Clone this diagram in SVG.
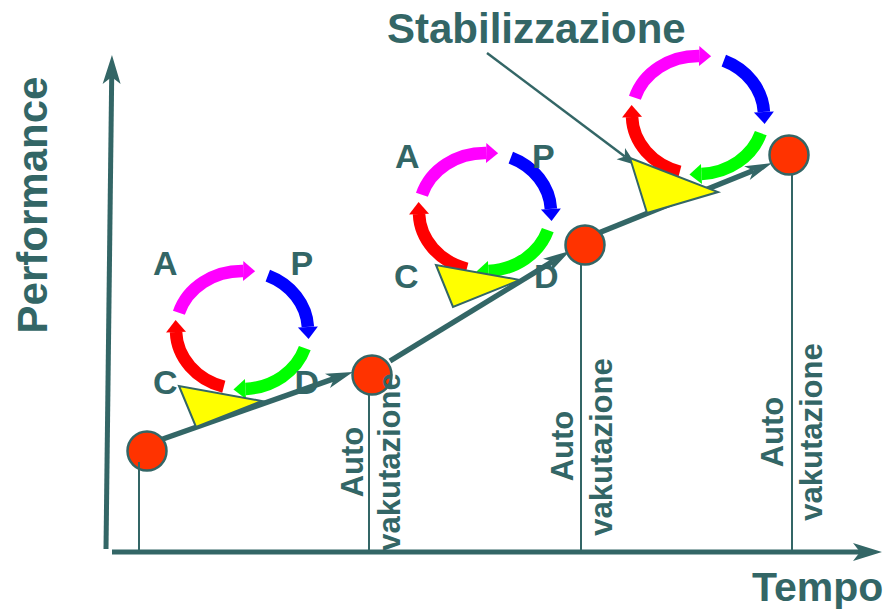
<svg xmlns="http://www.w3.org/2000/svg" xmlns:xlink="http://www.w3.org/1999/xlink" width="889" height="612" viewBox="0 0 889 612">
<style>
text{font-family:"Liberation Sans",Arial,sans-serif;font-weight:bold;fill:#336666}
.lbl{font-size:34px}
.vt{font-size:31px;text-anchor:middle}
.axis{stroke:#336666;stroke-width:5;fill:none}
.trend{stroke:#336666;stroke-width:5.5;fill:none}
.drop{stroke:#336666;stroke-width:2;fill:none}
.pt{fill:#ff3300;stroke:#336666;stroke-width:2.5}
.tri{fill:#ffff00;stroke:#336666;stroke-width:2;stroke-linejoin:miter}
.arc{fill:none;stroke-width:12.5}
</style>
<defs>
<marker id="ahAxis" markerUnits="userSpaceOnUse" viewBox="-8 -10 32 20" refX="0" refY="0" markerWidth="32" markerHeight="20" orient="auto" overflow="visible">
<path d="M-7,-9 L22,0 L-7,9 L0,0 Z" fill="#336666"/>
</marker>
<marker id="ahTrend" markerUnits="userSpaceOnUse" viewBox="-8 -9 30 18" refX="0" refY="0" markerWidth="30" markerHeight="18" orient="auto" overflow="visible">
<path d="M-7,-7.5 L20,0 L-7,7.5 L0,0 Z" fill="#336666"/>
</marker>
<marker id="ahSmall" markerUnits="userSpaceOnUse" viewBox="-6 -8 22 16" refX="0" refY="0" markerWidth="22" markerHeight="16" orient="auto" overflow="visible">
<path d="M-5,-7 L14,0 L-5,7 L0,0 Z" fill="#336666"/>
</marker>
<g id="pdca">
<path class="arc" stroke="#ff0000" d="M-18.2,56.7 A66,59 0 0 1 -65.96,2.06"/>
<polygon fill="#ff0000" points="-75.95,2.41 -55.97,1.71 -66.4,-9.9"/>
<path class="arc" stroke="#ff00ff" d="M-63.1,-17.25 A66,59 0 0 1 1.15,-59"/>
<polygon fill="#ff00ff" points="1.32,-69 0.98,-49 13.15,-58.8"/>
<path class="arc" stroke="#0000ff" d="M25.8,-54.3 A66,59 0 0 1 65.9,-3.09"/>
<polygon fill="#0000ff" points="75.9,-3.61 55.9,-2.57 66.6,8.9"/>
<path class="arc" stroke="#00ff00" d="M62.8,18.2 A66,59 0 0 1 3.45,58.9"/>
<polygon fill="#00ff00" points="3.97,68.9 2.93,48.9 -8.54,59.5"/>
</g>
</defs>

<g id="axes">
<path class="axis" d="M106,549 L111.7,77" marker-end="url(#ahAxis)"/>
<path class="axis" d="M112,552 L860,552" marker-end="url(#ahAxis)"/>
<text transform="translate(47,205) rotate(-90)" font-size="42" text-anchor="middle">Performance</text>
<text x="752" y="601" font-size="41">Tempo</text>
</g>

<g id="cycle1">
<use xlink:href="#pdca" href="#pdca" transform="translate(242,330)"/>
<text class="lbl" x="153" y="275">A</text>
<text class="lbl" x="290.5" y="275">P</text>
<text class="lbl" x="153" y="394">C</text>
<text class="lbl" x="294.5" y="394">D</text>
</g>
<g id="cycle2">
<use xlink:href="#pdca" href="#pdca" transform="translate(485,212)"/>
<text class="lbl" x="395" y="168">A</text>
<text class="lbl" x="532" y="168">P</text>
<text class="lbl" x="394" y="288">C</text>
<text class="lbl" x="534" y="288">D</text>
</g>
<g id="cycle3">
<use xlink:href="#pdca" href="#pdca" transform="translate(698,115)"/>
</g>

<g id="connectors">
<path class="trend" d="M160,440 L334.1,378.6" marker-end="url(#ahTrend)"/>
<path class="trend" d="M390,361 L552.9,261.4" marker-end="url(#ahTrend)"/>
<path class="trend" d="M596,234 L753.4,170.5" marker-end="url(#ahTrend)"/>
<path d="M487,53 L624.8,156.6" stroke="#336666" stroke-width="2.5" fill="none" marker-end="url(#ahSmall)"/>
</g>

<g id="triangle1"><polygon class="tri" points="179,386 196,427 262,401"/></g>
<g id="triangle2"><polygon class="tri" points="436,265 453,307 520,280"/></g>
<g id="triangle3"><polygon class="tri" points="630,158 647,213 718,192"/></g>

<g id="point1">
<circle class="pt" cx="147" cy="451" r="19.5"/>
<line class="drop" x1="139" y1="462" x2="139" y2="552"/>
</g>
<g id="point2">
<circle class="pt" cx="372" cy="375" r="19.5"/>
<line class="drop" x1="369" y1="394" x2="369" y2="552"/>
<text class="vt" transform="translate(363,462) rotate(-90)">Auto</text>
<text class="vt" transform="translate(400,462) rotate(-90)">vakutazione</text>
</g>
<g id="point3">
<circle class="pt" cx="585" cy="245" r="19.5"/>
<line class="drop" x1="581" y1="264" x2="581" y2="552"/>
<text class="vt" transform="translate(573,446) rotate(-90)">Auto</text>
<text class="vt" transform="translate(612,447) rotate(-90)">vakutazione</text>
</g>
<g id="point4">
<circle class="pt" cx="789" cy="155" r="19.5"/>
<line class="drop" x1="792" y1="174" x2="792" y2="552"/>
<text class="vt" transform="translate(783,432) rotate(-90)">Auto</text>
<text class="vt" transform="translate(822,432) rotate(-90)">vakutazione</text>
</g>

<g id="stabilizzazione">
<text x="387" y="43" font-size="42">Stabilizzazione</text>
</g>
</svg>
